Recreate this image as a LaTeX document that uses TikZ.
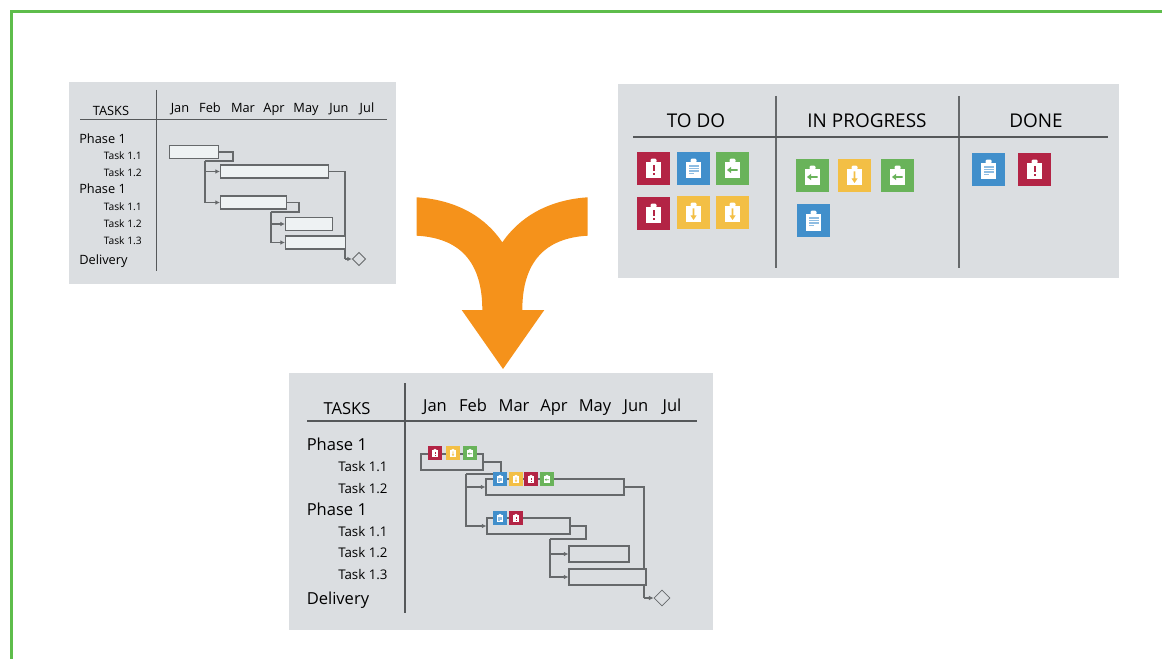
\documentclass[tikz,border=0pt]{standalone}
\usepackage{fontspec}
\setmainfont{Open Sans}
\usetikzlibrary{arrows.meta,shapes.geometric}
\definecolor{framegreen}{HTML}{5EBD4B}
\definecolor{panelgray}{HTML}{DBDEE1}
\definecolor{barfill}{HTML}{EEF2F3}
\definecolor{linegray}{HTML}{66696B}
\definecolor{rulegray}{HTML}{55585A}
\definecolor{arroworange}{HTML}{F5921B}
\definecolor{cardred}{HTML}{B32445}
\definecolor{cardblue}{HTML}{418FCB}
\definecolor{cardgreen}{HTML}{69B35A}
\definecolor{cardyellow}{HTML}{F3BF45}
\definecolor{doclines}{HTML}{8FBDE2}
\tikzset{
    panel/.style 2 args={rectangle, fill=panelgray, minimum width=#1*0.75pt, minimum height=#2*0.75pt, inner sep=0pt},
    bar/.style 2 args={rectangle, draw=linegray, line width=0.8pt, minimum width=#1*0.75pt, minimum height=#2*0.75pt, inner sep=0pt},
    link/.style={draw=linegray, line width=0.8pt},
    arrow/.style={link, -{Latex[length=3.5pt,width=3.5pt]}},
    rulebig/.style={draw=rulegray, line width=0.8pt},
    milestone/.style={diamond, draw=linegray, line width=0.6pt, inner sep=0pt, aspect=1, fill=panelgray},
    lbl/.style={inner sep=0pt, text height=0.9em, text depth=0pt},
    headsmall/.style={lbl, font=\fontsize{9.6}{11}\selectfont},
    phasesmall/.style={lbl, anchor=west, font=\fontsize{9.6}{11}\selectfont},
    tasksmall/.style={lbl, anchor=west, font=\fontsize{7.7}{10}\selectfont},
    headbig/.style={lbl, font=\fontsize{12.4}{14}\selectfont},
    phasebig/.style={lbl, anchor=west, font=\fontsize{12.4}{14}\selectfont},
    taskbig/.style={lbl, anchor=west, font=\fontsize{10}{12}\selectfont},
    column/.style={lbl, font=\fontsize{14.2}{16}\selectfont},
    pics/card/.style 2 args={code={
        \node[rectangle, fill=#1, minimum size=24.75pt, inner sep=0pt, transform shape] (-box) {};
        \fill[white] (-7.5,-6.3) rectangle (7.5,10);
        \fill[white, rounded corners=0.8pt] (-3,-6) rectangle (3,-9.8);
        \pgfkeysvalueof{/tikz/glyphs/#2}
    }},
    glyphs/alert/.initial={\fill[cardred] (-1,-3) rectangle (1,3); \fill[cardred] (-1,4.4) rectangle (1,6.4);},
    glyphs/doc/.initial={\fill[doclines] (-5,-3.2) rectangle (5,-1.9); \fill[doclines] (-5,-0.6) rectangle (5,0.7); \fill[doclines] (-5,2) rectangle (5,3.3); \fill[doclines] (-5,4.6) rectangle (0,5.9);},
    glyphs/left/.initial={\fill[cardgreen] (5,0.6) -- (-1.5,0.6) -- (-1.5,-1.6) -- (-5.5,1.5) -- (-1.5,4.6) -- (-1.5,2.4) -- (5,2.4) -- cycle;},
    glyphs/down/.initial={\fill[cardyellow] (-0.9,-4) -- (0.9,-4) -- (0.9,3) -- (3,3) -- (0,7.5) -- (-3,3) -- (-0.9,3) -- cycle;}
}
\begin{document}
\begin{tikzpicture}[x=0.75pt, y=-0.75pt]
    \useasboundingbox (0,0) rectangle (1162,659);

    % Outer frame
    \draw[framegreen, line width=2.25pt] (11.5,659) -- (11.5,11.5) -- (1162,11.5);

    % Panels
    \node[panel={327}{202}] (ganttplain) at (232.5,183) {};
    \node[panel={501}{194}] (board) at (868.5,181) {};
    \node[panel={424}{257}] (ganttcards) at (501,501.5) {};

    % Merge arrow
    \fill[arroworange] (416.7,197.3) .. controls (458,200) and (486,218) .. (502.3,242.3)
        .. controls (519,218) and (547,200) .. (587.7,197.3) -- (587.7,235.7)
        .. controls (545,238) and (522.3,262) .. (522.3,310) -- (544.3,310) -- (503,369)
        -- (461.7,310) -- (482.3,310) .. controls (482.3,262) and (460,238) .. (416.7,235.7) -- cycle;

    % Plain gantt, rules and labels
    \coordinate (atop) at (156.5,90);
    \coordinate (abottom) at (156.5,271);
    \coordinate (aleft) at (80,119.5);
    \coordinate (aright) at (387,119.5);
    \draw[rulebig] (atop) -- (abottom);
    \draw[rulebig] (aleft) -- (aright);
    \node[headsmall] (atasks) at (111,109.5) {TASKS};
    \node[headsmall] (ajan) at (180,107) {Jan};
    \node[headsmall] (afeb) at (210,107) {Feb};
    \node[headsmall] (amar) at (243,107) {Mar};
    \node[headsmall] (aapr) at (274,107) {Apr};
    \node[headsmall] (amay) at (306,107) {May};
    \node[headsmall] (ajun) at (339,107) {Jun};
    \node[headsmall] (ajul) at (367,107) {Jul};
    \node[phasesmall] (aphaseone) at (79,138) {Phase 1};
    \node[tasksmall] (atasko) at (103.5,154) {Task 1.1};
    \node[tasksmall] (ataskt) at (103.5,170.5) {Task 1.2};
    \node[phasesmall] (aphasetwo) at (79,188) {Phase 1};
    \node[tasksmall] (ataskp) at (103.5,204.5) {Task 1.1};
    \node[tasksmall] (ataskq) at (103.5,221.5) {Task 1.2};
    \node[tasksmall] (ataskr) at (103.5,238.5) {Task 1.3};
    \node[phasesmall] (adelivery) at (79,258) {Delivery};

    % Plain gantt, connectors first so the bars cover them
    \coordinate (ajogone) at (233,161);
    \coordinate (asplitone) at (205,161);
    \coordinate (ajogtwo) at (299,212);
    \coordinate (asplittwo) at (271,212);
    \coordinate (adrop) at (345,259);
    \node[milestone, minimum size=10pt] (adiamond) at (359,259) {};
    \node[bar={49}{13}, fill=barfill] (abarone) at (194,152) {};
    \node[bar={108}{13}, fill=barfill] (abartwo) at (274.5,171.5) {};
    \node[bar={66}{13}, fill=barfill] (abarthree) at (253.5,202.5) {};
    \node[bar={47}{13}, fill=barfill] (abarfour) at (309,224) {};
    \draw[link] (abarone.east) -| (ajogone) -- (asplitone);
    \draw[arrow] (asplitone) |- (abartwo.west);
    \draw[arrow] (asplitone) |- (abarthree.west);
    \draw[link] (abarthree.east) -| (ajogtwo) -- (asplittwo);
    \draw[arrow] (asplittwo) |- (abarfour.west);
    \draw[link] (abartwo.east) -| (adrop);
    \draw[arrow] (adrop) -- (adiamond.west);
    \node[bar={60}{13}, fill=barfill] (abarfive) at (315.5,242.5) {};
    \draw[arrow] (asplittwo) |- (abarfive.west);

    % Board
    \coordinate (bonetop) at (776,96);
    \coordinate (bonebottom) at (776,268);
    \coordinate (btwotop) at (959,96);
    \coordinate (btwobottom) at (959,268);
    \coordinate (bleft) at (633,137);
    \coordinate (bright) at (1108,137);
    \draw[rulebig, draw=linegray, line width=1pt] (bonetop) -- (bonebottom);
    \draw[rulebig, draw=linegray, line width=1pt] (btwotop) -- (btwobottom);
    \draw[rulebig] (bleft) -- (bright);
    \node[column] (todo) at (696,122) {TO DO};
    \node[column] (inprogress) at (867,122) {IN PROGRESS};
    \node[column] (done) at (1036,122) {DONE};
    \pic (cardone) at (653.5,168.5) {card={cardred}{alert}};
    \pic (cardtwo) at (693.5,168.5) {card={cardblue}{doc}};
    \pic (cardthree) at (732.5,168.5) {card={cardgreen}{left}};
    \pic (cardfour) at (653.5,213.5) {card={cardred}{alert}};
    \pic (cardfive) at (693.5,212.5) {card={cardyellow}{down}};
    \pic (cardsix) at (732.5,212.5) {card={cardyellow}{down}};
    \pic (cardseven) at (812.5,175.5) {card={cardgreen}{left}};
    \pic (cardeight) at (854.5,175.5) {card={cardyellow}{down}};
    \pic (cardnine) at (897.5,175.5) {card={cardgreen}{left}};
    \pic (cardten) at (813.5,220.5) {card={cardblue}{doc}};
    \pic (cardeleven) at (988.5,169.5) {card={cardblue}{doc}};
    \pic (cardtwelve) at (1034.5,169.5) {card={cardred}{alert}};

    % Gantt with cards, rules and labels
    \coordinate (ctop) at (405,383);
    \coordinate (cbottom) at (405,613);
    \coordinate (cleft) at (307,421);
    \coordinate (cright) at (697,421);
    \draw[rulebig] (ctop) -- (cbottom);
    \draw[rulebig] (cleft) -- (cright);
    \node[headbig] (ctasks) at (347,408) {TASKS};
    \node[headbig] (cjan) at (435,405) {Jan};
    \node[headbig] (cfeb) at (473,405) {Feb};
    \node[headbig] (cmar) at (514,405) {Mar};
    \node[headbig] (capr) at (554,405) {Apr};
    \node[headbig] (cmay) at (595,405) {May};
    \node[headbig] (cjun) at (636,405) {Jun};
    \node[headbig] (cjul) at (672,405) {Jul};
    \node[phasebig] (cphaseone) at (306.5,444) {Phase 1};
    \node[taskbig] (ctasko) at (338,465) {Task 1.1};
    \node[taskbig] (ctaskt) at (338,487) {Task 1.2};
    \node[phasebig] (cphasetwo) at (306.5,509) {Phase 1};
    \node[taskbig] (ctaskp) at (338,530) {Task 1.1};
    \node[taskbig] (ctaskq) at (338,551) {Task 1.2};
    \node[taskbig] (ctaskr) at (338,573) {Task 1.3};
    \node[phasebig] (cdelivery) at (306.5,598) {Delivery};

    % Gantt with cards, connectors
    \coordinate (cjogone) at (501,474);
    \coordinate (csplitone) at (466,474);
    \coordinate (cjogtwo) at (586,539);
    \coordinate (csplittwo) at (550,539);
    \coordinate (cdrop) at (644,598);
    \node[milestone, minimum size=12pt] (cdiamond) at (662,598) {};
    \node[bar={62}{16}] (cbarone) at (452,462) {};
    \node[bar={138}{16}] (cbartwo) at (555,487) {};
    \node[bar={83}{16}] (cbarthree) at (528.5,526) {};
    \node[bar={60}{16}] (cbarfour) at (599,554) {};
    \draw[link] (cbarone.east) -| (cjogone) -- (csplitone);
    \draw[arrow] (csplitone) |- (cbartwo.west);
    \draw[arrow] (csplitone) |- (cbarthree.west);
    \draw[link] (cbarthree.east) -| (cjogtwo) -- (csplittwo);
    \draw[arrow] (csplittwo) |- (cbarfour.west);
    \draw[link] (cbartwo.east) -| (cdrop);
    \draw[arrow] (cdrop) -- (cdiamond.west);
    \node[bar={77}{16}, fill=panelgray] (cbarfive) at (607.5,577) {};
    \draw[arrow] (csplittwo) |- (cbarfive.west);

    % Small cards on the bars
    \pic[scale=0.424] (chipone) at (435,453) {card={cardred}{alert}};
    \pic[scale=0.424] (chiptwo) at (453,453) {card={cardyellow}{down}};
    \pic[scale=0.424] (chipthree) at (470,453) {card={cardgreen}{left}};
    \pic[scale=0.424] (chipfour) at (500,479) {card={cardblue}{doc}};
    \pic[scale=0.424] (chipfive) at (516,479) {card={cardyellow}{down}};
    \pic[scale=0.424] (chipsix) at (531,479) {card={cardred}{alert}};
    \pic[scale=0.424] (chipseven) at (547,479) {card={cardgreen}{left}};
    \pic[scale=0.424] (chipeight) at (500,518) {card={cardblue}{doc}};
    \pic[scale=0.424] (chipnine) at (516,518) {card={cardred}{alert}};
\end{tikzpicture}
\end{document}
